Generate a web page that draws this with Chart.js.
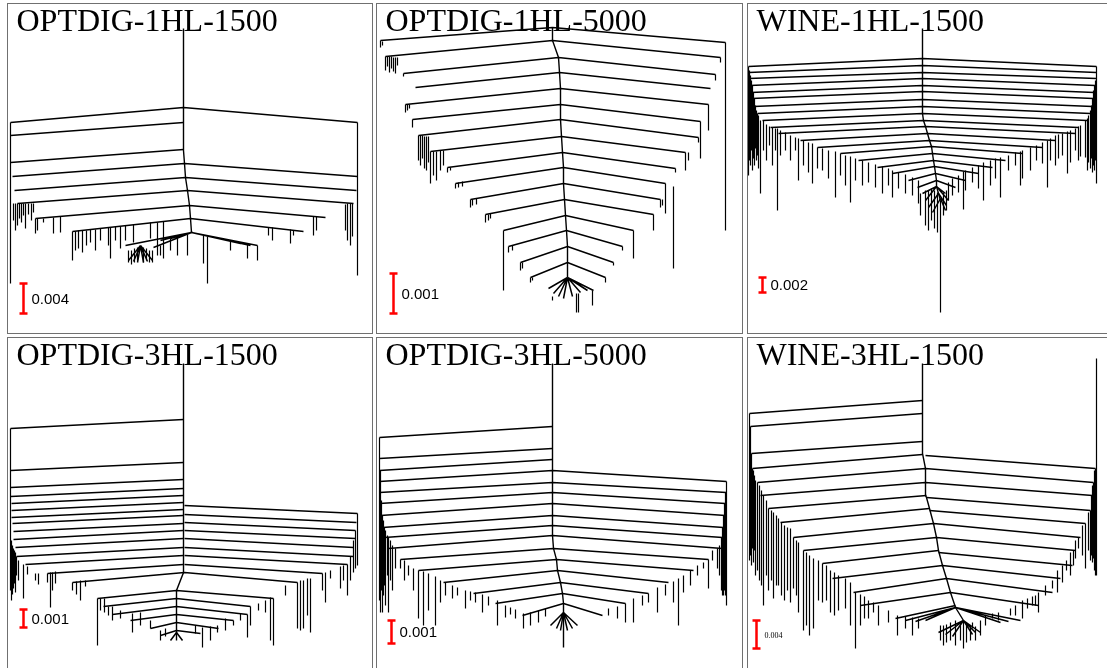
<!DOCTYPE html>
<html>
<head>
<meta charset="utf-8">
<script src="https://cdn.jsdelivr.net/npm/chart.js@4.4.1/dist/chart.umd.min.js"></script>
<style>
  body { margin: 0; background: #fff; width: 1107px; height: 668px; overflow: hidden; position: relative; }
  .box { position: absolute; border: 1px solid #707070; box-sizing: border-box; overflow: hidden; background: #fff; }
  .box canvas { position: absolute; left: 0; top: 0; }
</style>
</head>
<body>
<script>
// panel titles and scale bar values
const titles = ['OPTDIG-1HL-1500', 'OPTDIG-1HL-5000', 'WINE-1HL-1500', 'OPTDIG-3HL-1500', 'OPTDIG-3HL-5000', 'WINE-3HL-1500'];
const scaleLabels = ['0.004', '0.001', '0.002', '0.001', '0.001', '0.004'];
// scale bar: [x, top, bottom]
const scaleBars = [[23, 283, 313], [393, 273, 313], [762, 277, 292], [23, 609, 627], [391, 620, 643], [756, 620, 648]];

// trunks (polyline), arms [nodeX, nodeY, endX, endY], hanging leaves [x, top, bottom]
const trunk1 = [[183,28],[183,107],[183,150],[184,163],[185,177],[187,190],[189,205],[190,218],[191,232]];
const arms1 = [
  [183,107,10,122],[183,107,357,122],[183,122,10,135],[183,149,10,162],
  [184,163,12,176],[184,163,357,176],[185,177,14,190],[185,177,356,190],
  [187,190,17,203],[187,190,353,203],[189,205,35,218],[189,205,325,217],
  [190,218,72,231],[190,218,303,231],[191,232,125,245],[191,232,257,245],
  [191,232,153,247],[191,232,160,240],[191,232,170,238],[191,232,230,240],[191,232,240,243],[191,232,250,245],
  [140,245,128,260],[140,245,133,261],[140,245,137,262],[140,245,143,262],[140,245,147,261],[140,245,152,260]
];
const hairs1 = [
  [10,122,283],[357,122,275],
  [13,203,220],[15,203,230],[17,203,225],[19,203,218],[21,203,222],[23,203,215],[25,203,228],[28,203,214],[31,203,220],[33,203,212],
  [35,218,233],[37,218,230],[43,218,222],[53,217,233],[60,216,232],
  [72,231,260],[75,231,250],[78,230,248],[82,230,252],[86,230,245],[90,229,242],[95,229,250],[100,228,240],[108,227,245],[110,227,258],
  [115,226,240],[120,226,248],[125,225,240],[133,224,242],[150,222,238],[157,222,255],[163,221,258],
  [347,203,240],[350,203,245],[345,204,230],[352,203,236],[313,216,235],[316,216,230],
  [293,230,235],[290,229,243],[272,227,240],[268,227,235],
  [257,245,260],[247,243,258],[230,240,250],[207,236,283],[203,235,263],[187,234,255],[177,236,255],[170,238,250],
  [128,250,262],[131,250,264],[134,248,262],[137,247,260],[143,247,262],[146,248,260],[149,250,262],[152,250,262],[160,245,255]
];

const trunk2 = [[552,27],[552,40],[558,57],[559,72],[560,88],[560,104],[560,119],[561,136],[562,152],[563,167],[563,183],[564,199],[565,215],[566,230],[567,246],[567,262],[567,277]];
const arms2 = [
  [552,27,380,40],[552,27,725,42],[552,40,385,56],[552,40,720,57],
  [558,57,403,73],[558,57,715,74],[559,72,415,87],[559,72,710,88],
  [560,88,405,104],[560,88,708,104],[560,104,412,119],[560,104,700,121],
  [560,119,418,135],[560,119,698,137],[561,136,430,151],[561,136,685,152],
  [562,152,447,167],[562,152,675,168],[563,167,455,183],[563,167,665,183],
  [563,183,470,199],[563,183,660,199],[564,199,485,214],[564,199,653,214],
  [565,215,503,230],[565,215,633,230],[566,230,508,246],[566,230,622,246],
  [567,246,520,262],[567,246,613,262],[567,262,530,277],[567,262,605,277],
  [567,277,548,288],[567,277,553,293],[567,277,558,296],[567,277,563,298],[567,277,572,296],[567,277,580,292],[567,277,587,290],[567,277,593,290]
];
const hairs2 = [
  [725,42,230],[720,57,62],[715,74,80],[708,104,130],[700,121,158],[698,137,142],[685,152,170],[688,152,160],[675,168,172],
  [665,183,213],[673,186,268],[660,199,207],[662,199,205],[653,214,230],[633,230,258],[622,246,250],[613,262,265],[605,277,282],
  [380,40,47],[382,41,45],[385,56,70],[387,56,66],[389,56,72],[391,56,68],[393,57,71],[395,57,73],[397,57,65],[403,73,76],
  [405,104,112],[407,104,110],[409,104,108],[412,119,127],[418,135,160],[420,135,165],[422,135,158],[424,136,168],[426,136,170],[428,136,162],
  [430,151,183],[433,151,175],[436,151,180],[440,150,170],[443,150,165],[447,167,172],[450,167,170],[455,183,188],[458,182,187],[462,181,186],
  [470,199,207],[472,199,205],[476,198,204],[485,214,222],[488,214,220],[490,213,218],[503,230,290],[508,246,252],[512,245,250],
  [520,262,270],[522,262,268],[530,277,282],[532,277,280],[592,290,305],[576,293,312],[578,293,312],[552,296,300]
];

const trunk3 = [[922,28],[922,113],[923,120],[925,126],[927,133],[929,140],[931,146],[932,153],[933,160],[934,166],[935,173],[936,180],[936,186],[938,193],[940,200]];
const arms3 = [
  [922,58,748,66],[922,58,1096,66],[922,65,748,72],[922,65,1096,72],[922,72,748,78],[922,72,1096,78],
  [922,78,749,85],[922,78,1095,85],[922,85,750,92],[922,85,1094,92],[922,91,751,98],[922,91,1093,98],
  [922,99,753,106],[922,99,1092,106],[922,106,757,113],[922,106,1090,113],[922,113,762,120],[922,113,1087,120],
  [923,120,770,127],[923,120,1078,127],[925,126,778,133],[925,126,1075,133],[927,133,800,140],[927,133,1055,140],
  [929,140,817,147],[929,140,1042,147],[931,146,840,153],[931,146,1022,153],[932,153,858,160],[932,153,1005,160],
  [933,160,877,167],[933,160,992,167],[934,166,892,173],[934,166,978,173],[935,173,908,180],[935,173,965,180],
  [936,180,917,187],[936,180,955,187],[936,186,922,193],[936,186,945,193],
  [936,186,925,200],[936,186,948,200],[938,193,928,207],[938,193,946,205],[940,198,932,212],[940,198,945,210]
];
const hairs3 = [
  [940,200,312],[1096,66,183],
  [748,66,175],[749,70,160],[750,75,165],[751,80,150],[752,85,170],[753,92,158],[754,98,165],[755,105,148],[756,110,160],[757,113,155],
  [758,115,168],[760,120,193],[763,120,150],[766,124,160],[769,126,145],[772,127,165],[775,128,150],[777,128,210],[780,130,155],
  [785,132,150],[790,135,160],[795,137,150],[798,138,180],[803,140,165],[808,142,172],[812,143,183],[817,147,168],[822,148,170],
  [828,150,178],[835,151,197],[840,153,175],[845,155,185],[850,156,202],[855,158,180],[862,160,185],[868,162,182],[875,164,187],
  [882,166,193],[888,168,185],[892,170,197],[898,172,188],[905,174,193],[912,177,195],[918,180,203],
  [1095,80,160],[1094,85,170],[1093,90,165],[1092,98,172],[1091,105,158],[1090,110,168],[1088,115,162],[1087,118,170],[1085,120,157],
  [1080,125,156],[1078,126,160],[1075,128,150],[1070,130,162],[1067,131,173],[1062,133,155],[1058,134,158],[1055,135,165],[1050,138,160],
  [1047,140,187],[1042,142,163],[1036,145,160],[1030,147,170],[1022,150,178],[1020,151,185],[1015,152,165],[1008,155,170],[1000,157,197],
  [995,158,178],[990,160,185],[983,162,200],[978,165,188],[972,167,182],[965,170,190],[963,171,209],[958,175,192],[952,178,195],[948,182,200],
  [925,190,225],[928,190,230],[931,188,220],[934,190,228],[937,192,232],[943,192,215],[946,190,210],[920,193,215]
];

const trunk4 = [[183,363],[183,572],[176,590],[176,640]];
const arms4 = [
  [183,419,10,428],[183,462,10,470],[183,479,10,487],[183,488,10,496],[183,495,11,503],[183,502,11,510],[183,509,11,517],
  [183,515,12,523],[183,523,13,531],[183,530,13,539],[183,538,15,547],[183,547,16,556],[183,555,25,564],[183,564,47,573],[184,572,72,582],
  [184,505,357,513],[184,514,356,522],[184,522,355,530],[184,530,355,538],[184,538,353,547],[184,547,353,556],[184,555,347,564],
  [184,564,322,573],[184,572,297,582],
  [176,590,97,598],[176,590,273,598],[176,598,103,606],[176,598,250,606],[176,606,112,614],[176,606,247,614],
  [176,614,130,620],[176,614,233,620],[176,622,150,628],[176,622,218,628],[176,630,160,635],[176,630,200,633],
  [176,632,170,640],[176,632,182,640]
];
const hairs4 = [
  [10,428,590],[11,540,600],[12,545,594],[13,548,588],[14,550,583],[15,552,592],[16,556,575],[18,560,580],[23,564,598],[27,566,574],
  [35,573,580],[38,573,584],[47,573,582],[50,572,607],[52,572,590],[55,571,583],[72,582,590],[76,581,594],[80,580,600],[85,580,586],
  [97,598,645],[100,598,610],[104,598,612],[108,606,615],[112,606,620],[120,610,618],[132,613,632],[140,612,625],[150,620,628],
  [160,630,640],[165,628,636],
  [357,513,565],[355,530,568],[353,540,572],[350,556,580],[347,564,595],[343,565,580],[340,566,588],[330,570,578],[325,572,602],
  [322,573,590],[310,578,632],[307,578,615],[303,580,628],[300,580,630],[297,582,628],[285,585,595],[273,598,645],[270,597,640],
  [265,600,612],[258,603,610],[250,606,625],[247,614,637],[240,613,620],[233,620,625],[225,618,630],[217,625,632],[210,626,640],
  [202,627,647],[195,625,633]
];

const trunk5 = [[552,363],[552,535],[553,548],[556,559],[557,570],[560,582],[562,593],[563,603],[563,647]];
const arms5 = [
  [552,426,379,437],[552,448,379,458],[552,459,379,470],[552,470,379,481],[552,482,379,492],[552,492,379,503],[552,503,380,515],
  [552,515,382,527],[552,525,384,537],[552,535,388,548],[553,548,400,559],[556,559,418,570],[557,570,443,582],[560,582,473,593],
  [562,593,495,603],[563,603,522,615],
  [552,470,726,481],[552,482,726,492],[552,492,725,503],[552,503,725,515],[552,515,723,527],[552,525,722,537],[552,535,722,548],
  [553,548,708,559],[556,559,693,570],[557,570,668,582],[560,582,648,593],[562,593,625,603],[563,603,602,615],
  [563,612,550,625],[563,612,556,628],[563,612,560,630],[563,612,567,630],[563,612,572,628],[563,612,577,625]
];
const hairs5 = [
  [379,437,600],[380,470,612],[381,500,590],[382,515,612],[383,520,595],[384,527,585],[385,530,605],[387,535,575],[388,537,612],
  [390,540,580],[392,545,590],[395,548,568],[400,559,568],[404,560,580],[408,565,575],[413,568,590],[418,570,618],[423,571,625],
  [428,573,610],[435,576,625],[440,580,602],[445,582,595],[452,585,598],[457,587,595],[465,590,608],[470,591,600],[475,592,602],
  [482,594,612],[488,596,605],[497,600,625],[505,605,617],[510,607,614],[515,609,618],[523,613,628],[530,612,625],[538,610,622],[545,608,616],
  [726,481,605],[725,492,595],[724,503,590],[723,515,595],[722,527,595],[721,537,590],[719,545,575],[717,548,568],[712,550,560],
  [708,559,588],[703,562,568],[697,565,575],[690,570,585],[683,575,592],[678,578,625],[673,581,602],[665,584,595],[657,587,612],
  [648,593,602],[642,595,605],[633,598,622],[625,603,622],[617,606,618],[608,608,615]
];

const trunk6 = [[922,363],[922,453],[925,468],[925,495],[926,497],[929,508],[933,523],[936,537],[938,550],[942,565],[946,578],[950,592],[955,607],[963,620]];
const arms6 = [
  [922,400,749,413],[922,413,750,426],[922,441,751,453],[922,454,752,468],[925,468,757,482],[925,482,760,495],[926,495,768,508],
  [929,508,780,522],[933,523,793,537],[936,537,803,550],[938,550,822,563],[942,565,832,578],[946,578,853,592],[950,592,860,605],
  [955,605,895,618],[963,620,938,632],
  [925,455,1095,468],[925,468,1093,482],[925,482,1092,495],[926,497,1090,510],[929,510,1085,523],[933,523,1080,537],[936,537,1075,550],
  [938,552,1072,565],[942,565,1060,578],[946,578,1052,592],[950,592,1038,605],[955,607,1020,620],[963,620,980,632],
  [955,607,905,620],[955,607,915,621],[955,607,925,620],[955,607,1000,622],[955,607,1008,621],
  [963,620,945,634],[963,620,952,636],[963,620,972,634],[963,620,975,632]
];
const hairs6 = [
  [1096,358,575],
  [749,413,560],[750,426,555],[751,453,565],[752,468,548],[753,470,562],[754,475,550],[755,480,575],[757,482,570],[759,485,580],
  [761,490,585],[763,495,605],[766,500,575],[768,508,590],[771,510,580],[773,512,598],[776,515,585],[778,518,585],[781,522,595],
  [784,525,600],[787,527,590],[790,528,602],[793,537,588],[796,540,595],[798,542,612],[803,550,630],[806,552,625],[809,555,635],
  [813,558,628],[818,560,600],[822,563,602],[826,565,600],[830,570,612],[834,572,615],[838,575,610],[845,578,608],[850,582,625],
  [855,592,648],[860,594,625],[864,596,618],[868,600,618],[873,602,612],[878,605,625],[888,610,622],[897,615,635],[905,616,628],
  [912,617,635],[918,618,628],
  [1095,468,575],[1094,470,570],[1093,482,558],[1092,485,562],[1091,495,555],[1090,510,560],[1088,512,550],[1085,523,568],
  [1082,525,555],[1078,537,548],[1075,540,558],[1073,550,565],[1070,552,575],[1066,560,570],[1062,565,582],[1057,570,592],
  [1052,580,588],[1045,585,595],[1038,592,612],[1035,595,605],[1032,596,605],[1027,598,608],[1022,600,618],[1015,605,615],
  [1010,608,615],[998,612,620],[992,613,618],[985,615,625],[980,620,635],[972,622,628],
  [940,625,640],[943,625,645],[946,624,642],[950,622,640],[955,620,645],[960,625,640],[963,620,648],[966,625,642],[970,625,640],[975,626,640]
];

const trunks = [trunk1, trunk2, trunk3, trunk4, trunk5, trunk6];
const armSets = [arms1, arms2, arms3, arms4, arms5, arms6];
const hairSets = [hairs1, hairs2, hairs3, hairs4, hairs5, hairs6];

// page layout of the six framed cells: left, top, width, height
const boxes = [[7,3,366,331],[376,3,367,331],[747,3,380,331],[7,337,366,340],[376,337,367,340],[747,337,380,340]];
const labelFonts = ['15px "Liberation Sans"','15px "Liberation Sans"','15px "Liberation Sans"','15px "Liberation Sans"','15px "Liberation Sans"','8px "Liberation Serif"'];

const GAP = {x: NaN, y: NaN};
function poly(pts) { return pts.map(p => ({x: p[0], y: p[1]})); }
function segs(list) {
  const out = [];
  list.forEach(s => { out.push({x: s[0], y: s[1]}, {x: s[2], y: s[3]}, GAP); });
  return out;
}
function vlines(list) {
  const out = [];
  list.forEach(h => { out.push({x: h[0], y: h[1]}, {x: h[0], y: h[2]}, GAP); });
  return out;
}
function barPts(b) {
  const c = 4;
  return [{x: b[0]-c, y: b[1]}, {x: b[0]+c, y: b[1]}, GAP,
          {x: b[0], y: b[1]}, {x: b[0], y: b[2]}, GAP,
          {x: b[0]-c, y: b[2]}, {x: b[0]+c, y: b[2]}];
}
function lineSet(data, color, width) {
  return {data: data, showLine: true, borderColor: color, borderWidth: width, pointRadius: 0,
          fill: false, tension: 0, spanGaps: false, borderCapStyle: 'butt'};
}

const panelText = {
  id: 'panelText',
  afterDatasetsDraw(chart, args, o) {
    const ctx = chart.ctx, xs = chart.scales.x, ys = chart.scales.y;
    ctx.save();
    ctx.fillStyle = '#000';
    ctx.font = '32px "Liberation Serif"';
    ctx.textBaseline = 'alphabetic';
    ctx.fillText(o.title, xs.getPixelForValue(o.tx), ys.getPixelForValue(o.ty));
    ctx.font = o.labelFont;
    ctx.textBaseline = 'middle';
    const b = o.bar;
    ctx.fillText(o.label, xs.getPixelForValue(b[0] + 8), ys.getPixelForValue((b[1] + b[2]) / 2 + 1));
    ctx.restore();
  }
};

boxes.forEach((bx, i) => {
  const div = document.createElement('div');
  div.className = 'box';
  div.style.left = bx[0] + 'px'; div.style.top = bx[1] + 'px';
  div.style.width = bx[2] + 'px'; div.style.height = bx[3] + 'px';
  const cv = document.createElement('canvas');
  const cw = bx[2] - 2, ch = bx[3] - 2;
  cv.width = cw; cv.height = ch;
  cv.style.width = cw + 'px'; cv.style.height = ch + 'px';
  div.appendChild(cv);
  document.body.appendChild(div);
  // half-pixel shift so whole-number values fall on pixel centres (crisp 1px lines)
  const x0 = bx[0] + 0.5, y0 = bx[1] + 0.5;

  new Chart(cv, {
    type: 'scatter',
    data: {
      datasets: [
        lineSet(vlines(hairSets[i]), '#000', 1.2),
        lineSet(segs(armSets[i]), '#000', 1.5),
        lineSet(poly(trunks[i]), '#000', 1.4),
        lineSet(barPts(scaleBars[i]), '#ff0000', 2.5)
      ]
    },
    options: {
      responsive: false,
      animation: false,
      events: [],
      devicePixelRatio: 1,
      layout: {padding: 0},
      plugins: {
        legend: {display: false},
        tooltip: {enabled: false},
        panelText: {title: titles[i], tx: x0 + 8.5, ty: y0 + 26.5, label: scaleLabels[i], bar: scaleBars[i], labelFont: labelFonts[i]}
      },
      scales: {
        x: {type: 'linear', display: false, min: x0, max: x0 + cw},
        y: {type: 'linear', display: false, min: y0, max: y0 + ch, reverse: true}
      }
    },
    plugins: [panelText]
  });
});
</script>
</body>
</html>
